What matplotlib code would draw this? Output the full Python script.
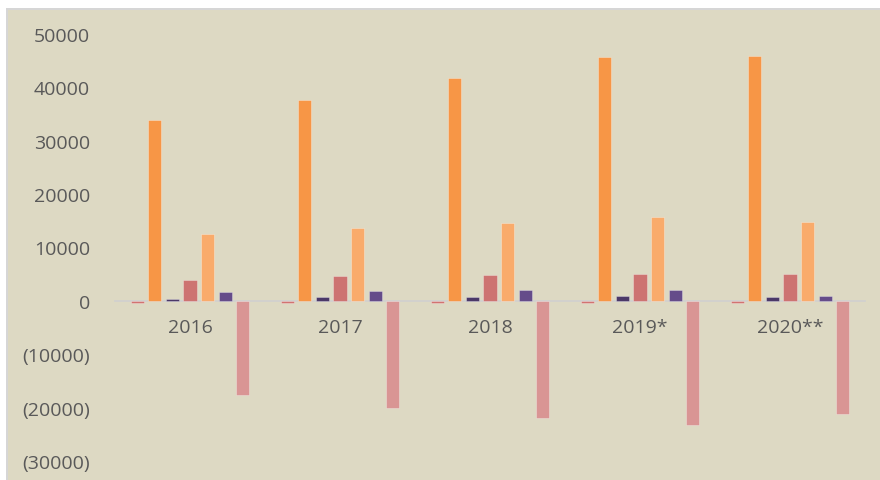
import numpy as np
import matplotlib.pyplot as plt
from matplotlib.patches import Rectangle
from matplotlib.ticker import FuncFormatter

years = ['2016', '2017', '2018', '2019*', '2020**']

# seven series per year, left to right inside each group
s1 = [-400, -450, -400, -400, -400]
s2 = [33950, 37700, 41850, 45600, 45800]
s3 = [400, 650, 700, 900, 700]
s4 = [4000, 4600, 4800, 5000, 5000]
s5 = [12500, 13700, 14500, 15650, 14700]
s6 = [1600, 1800, 2050, 2050, 900]
s7 = [-17600, -20150, -21900, -23300, -21150]

series = [s1, s2, s3, s4, s5, s6, s7]
colors = ['#D27371', '#F79646', '#4B3868', '#CD7371', '#F9AB6B', '#654C8A', '#D99594']

BG = '#DDD9C3'
TXT = '#595959'
plt.rcParams['font.family'] = ['Open Sans', 'DejaVu Sans']

fig = plt.figure(figsize=(8.8, 4.81), dpi=100)
fig.patch.set_facecolor('white')
W, H = 880, 481
fig.patches.append(Rectangle((6 / W, 0), 1, (H - 9) / H, transform=fig.transFigure,
                             facecolor='#D6D6D6', edgecolor='none', zorder=-10))
fig.patches.append(Rectangle((8 / W, 0), 1, (H - 11) / H, transform=fig.transFigure,
                             facecolor=BG, edgecolor='none', zorder=-9))

ax = fig.add_axes([115 / W, (H - 462) / H, 750 / W, 427 / H])
ax.set_facecolor('none')
ax.set_zorder(5)

x = np.arange(len(years))
step = 0.117
width = 0.087
for i, (vals, c) in enumerate(zip(series, colors)):
    ax.bar(x + (i - 3) * step, vals, width=width, color=c,
           edgecolor=(1, 1, 1, 0.35), linewidth=0.6, zorder=2)

ax.set_xlim(-0.5, len(years) - 0.5)
ax.set_ylim(-30000, 50000)
ax.set_yticks(np.arange(-30000, 50001, 10000))
ax.yaxis.set_major_formatter(FuncFormatter(
    lambda v, p: '({:d})'.format(int(-v)) if v < 0 else '{:d}'.format(int(v))))

ax.set_xticks(x)
ax.set_xticklabels(years)
for s in ['top', 'right', 'left']:
    ax.spines[s].set_visible(False)
ax.spines['bottom'].set_position(('data', 0))
ax.spines['bottom'].set_color('#D0D0D0')
ax.spines['bottom'].set_linewidth(1.2)
ax.spines['bottom'].set_zorder(1)

ax.tick_params(axis='y', length=0, pad=18, labelsize=14, labelcolor=TXT)
ax.tick_params(axis='x', length=0, pad=12, labelsize=14, labelcolor=TXT)

plt.savefig('out.png', dpi=100, facecolor=fig.get_facecolor())
